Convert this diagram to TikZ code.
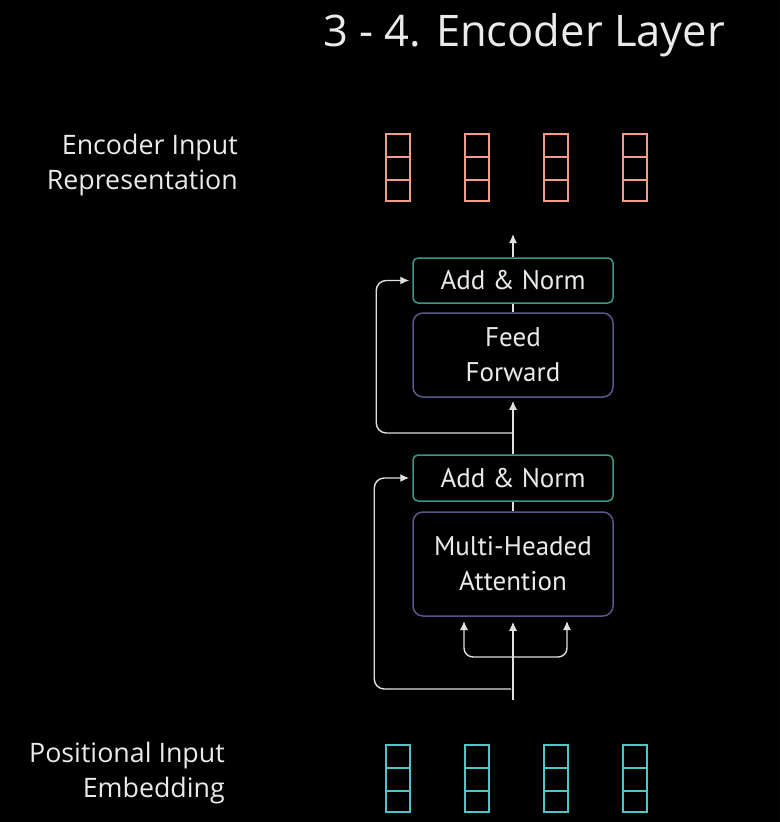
\documentclass[tikz,border=0pt]{standalone}
\usepackage{fontspec}
\setmainfont{Open Sans}
\newfontfamily\boxfont{PT Sans}
\usetikzlibrary{arrows.meta,calc}
\definecolor{coralc}{HTML}{F29C8C}
\definecolor{tealc}{HTML}{4CC6C6}
\definecolor{anborder}{HTML}{3E9488}
\definecolor{blkborder}{HTML}{58588A}
\definecolor{txt}{HTML}{EAEAEA}
\definecolor{linec}{HTML}{E0E0E0}
\begin{document}
\begin{tikzpicture}[x=1pt,y=-1pt,
  anbox/.style={draw=anborder, line width=1.5pt, rounded corners=5pt, minimum width=200pt, minimum height=45pt, text=txt, inner sep=0pt, font=\boxfont\fontsize{27}{35}\selectfont},
  blkbox/.style={draw=blkborder, line width=1.5pt, rounded corners=10pt, minimum width=200pt, text=txt, align=center, inner sep=0pt, font=\boxfont\fontsize{27}{35}\selectfont},
  sidelabel/.style={text=txt, align=right, anchor=east, inner sep=0pt, font=\fontsize{26.8}{35}\selectfont},
  conn/.style={draw=linec, line width=1.4pt},
  arr/.style={conn, -{Latex[length=9pt,width=8pt]}},
  vec/.style={line width=2.6pt}
]
\fill[black] (0,0) rectangle (780,822);
\useasboundingbox (0,0) rectangle (780,822);

% title
\node[text=txt, inner sep=0pt, font=\fontsize{43.5}{50}\selectfont] (title) at (524,35) {3 - 4. Encoder Layer};

% side labels
\node[sidelabel] (enclabel) at (238,165) {Encoder Input\\Representation};
\node[sidelabel] (poslabel) at (225,773) {Positional Input\\Embedding};

% vectors
\foreach \c in {398,477,556,635} {
  \draw[vec, draw=coralc] (\c-12,134) rectangle (\c+12,201);
  \draw[vec, draw=coralc] (\c-12,157) -- (\c+12,157) (\c-12,180) -- (\c+12,180);
  \draw[vec, draw=tealc] (\c-12,745) rectangle (\c+12,812);
  \draw[vec, draw=tealc] (\c-12,768) -- (\c+12,768) (\c-12,791) -- (\c+12,791);
}

% boxes
\node[anbox] (an2) at (513,280.5) {Add \& Norm};
\node[blkbox, minimum height=84pt] (ff) at (513,355) {Feed\\Forward};
\node[anbox, minimum height=46pt] (an1) at (513,478) {Add \& Norm};
\node[blkbox, minimum height=104pt] (mha) at (513,564) {Multi-Headed\\Attention};

% coordinates
\coordinate (in) at (513,700);
\coordinate (split) at (513,657);
\coordinate (qL) at (464,616);
\coordinate (qR) at (567,616);
\coordinate (r1) at (511,689);
\coordinate (r2) at (513,433);
\coordinate (out) at (513,234);

% connectors
\draw[arr, shorten >=5pt] (in) -- (mha.south);
\draw[arr, rounded corners=9pt, shorten >=5pt] (split) -| (qL);
\draw[arr, rounded corners=9pt, shorten >=5pt] (split) -| (qR);
\draw[arr, rounded corners=10pt, shorten >=3pt] (r1) -| ($(an1.west)+(-38,0)$) -- (an1.west);
\draw[conn] (mha.north) -- (an1.south);
\draw[arr, shorten >=3pt] (an1.north) -- (ff.south);
\draw[arr, rounded corners=10pt, shorten >=3pt] (r2) -| ($(an2.west)+(-36,0)$) -- (an2.west);
\draw[conn] (ff.north) -- (an2.south);
\draw[arr] (an2.north) -- (out);
\end{tikzpicture}
\end{document}
